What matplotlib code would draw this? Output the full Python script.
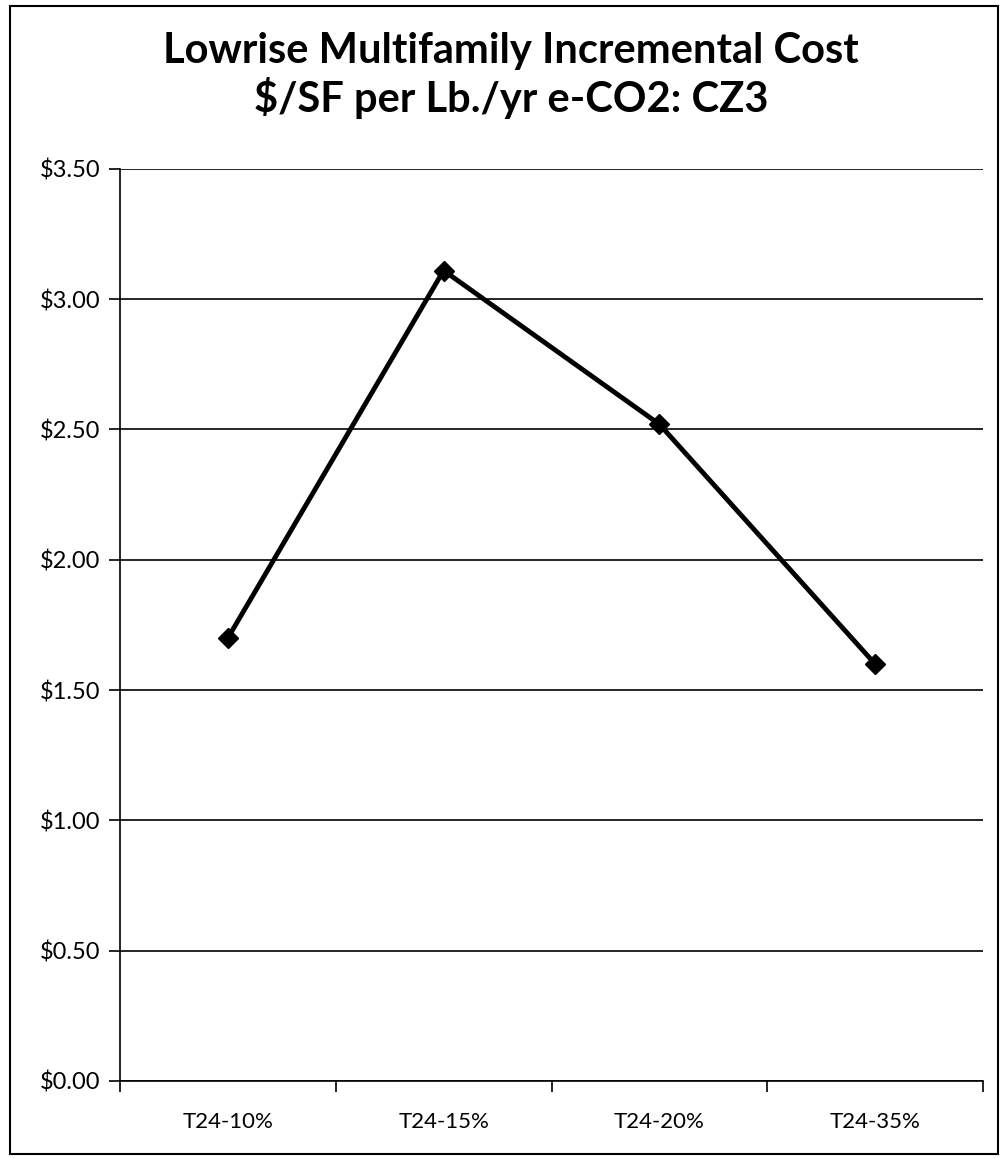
import numpy as np
import matplotlib.pyplot as plt
from matplotlib.patches import Rectangle

# Chart values
categories = ['T24-10%', 'T24-15%', 'T24-20%', 'T24-35%']
cost_per_lb = [1.70, 3.11, 2.52, 1.60]
y_ticks = [0.0, 0.5, 1.0, 1.5, 2.0, 2.5, 3.0, 3.5]

plt.rcParams['font.family'] = ['Lato', 'DejaVu Sans']

fig = plt.figure(figsize=(10, 11.59), dpi=100)
ax = fig.add_axes([0.12, 0.0673, 0.863, 0.787])

x = np.arange(len(categories))
ax.plot(x, cost_per_lb, color='black', lw=3.5, marker='D', markersize=10, zorder=3)

ax.set_xlim(-0.5, len(categories) - 0.5)
ax.set_ylim(0, 3.5)

# y axis: dollar labels, black gridlines
ax.set_yticks(y_ticks)
ax.set_yticklabels(['${:.2f}'.format(v) for v in y_ticks], fontsize=17)
ax.yaxis.grid(True, color='black', lw=1.2)
ax.set_axisbelow(True)

# x axis: ticks at category boundaries, labels at centers
ax.set_xticks(np.arange(-0.5, len(categories)))
ax.set_xticklabels([])
ax.set_xticks(x, minor=True)
ax.set_xticklabels(categories, minor=True, fontsize=16)
ax.tick_params(axis='x', which='minor', length=0, pad=22)
ax.tick_params(axis='both', which='major', length=8, width=1.2, color='black')
ax.tick_params(axis='y', pad=6)

for side in ['top', 'right']:
    ax.spines[side].set_visible(False)
for side in ['left', 'bottom']:
    ax.spines[side].set_linewidth(1.2)

fig.text(0.511, 0.972, 'Lowrise Multifamily Incremental Cost\n$/SF per Lb./yr e-CO2: CZ3',
         ha='center', va='top', fontsize=30, fontweight='bold', linespacing=1.2)

# outer chart frame
fig.patches.append(Rectangle((0.010, 0.004), 0.988, 0.991, transform=fig.transFigure,
                             fill=False, edgecolor='black', lw=1.5))

fig.savefig('out.png', dpi=100)
